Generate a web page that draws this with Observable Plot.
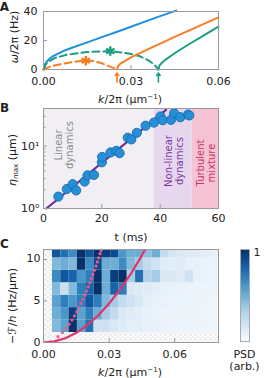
<!DOCTYPE html>
<html><head><meta charset="utf-8">
<script src="https://cdn.jsdelivr.net/npm/d3@7"></script>
<script src="https://cdn.jsdelivr.net/npm/@observablehq/plot@0.6"></script>
<style>
body{margin:0;background:#fff;}
#wrap{position:relative;width:265px;height:378px;font-family:"DejaVu Sans",sans-serif;font-size:11px;color:#222;overflow:hidden}
#wrap svg{position:absolute;left:0;overflow:visible}
.lbl{position:absolute;white-space:nowrap;line-height:1;transform:translate(-50%,-50%)}
.rot{transform:translate(-50%,-50%) rotate(-90deg);text-align:center}
.cbar{position:absolute;box-sizing:border-box;border:1px solid #aaa}
</style></head><body><div id="wrap"></div>
<script>
// ---------- Panel A: dispersion relations ----------
const blueK = [0, 0.0005, 0.001, 0.002, 0.003, 0.005, 0.0075, 0.01, 0.015, 0.02, 0.025, 0.03, 0.035, 0.04, 0.0455];
const blueW = [0, 3.5, 5.2, 7.3, 8.8, 11.0, 13.3, 15.2, 18.7, 22.3, 25.9, 29.5, 33.2, 36.8, 40.6];
const orangeDashK = [0, 0.001, 0.0025, 0.004, 0.007, 0.01, 0.0125, 0.0145, 0.017, 0.0185, 0.02, 0.0217, 0.0235, 0.0246, 0.0252];
const orangeDashW = [0, 1.0, 2.0, 2.9, 4.1, 5.1, 5.8, 6.1, 5.9, 5.2, 4.3, 2.9, 1.5, 0.7, 0];
const orangeK = [0.0252, 0.0256, 0.0265, 0.028, 0.03, 0.035, 0.04, 0.045, 0.05, 0.055, 0.06];
const orangeW = [0, 2.5, 4.3, 6.0, 8.3, 13.2, 17.9, 22.5, 27.0, 31.5, 35.9];
const greenDashK = [0, 0.0007, 0.0017, 0.004, 0.008, 0.0149, 0.0229, 0.0297, 0.0331, 0.036, 0.0379, 0.0394];
const greenDashW = [0, 3.2, 5.5, 8.0, 10.2, 12.0, 12.7, 10.9, 9.1, 6.3, 3.6, 0];
const greenK = [0.0394, 0.0397, 0.0405, 0.042, 0.044, 0.046, 0.05, 0.055, 0.06];
const greenW = [0, 2.5, 4.5, 7.0, 9.8, 12.6, 17.6, 23.6, 29.6];
const starK = [0.0145, 0.0229];
const starW = [6.1, 12.7];
const criticalK = [0.0252, 0.0394];
const arrowFromW = [-8.7, -8.7];
const arrowToW = [-2.4, -2.4];
const xTicksA = [0, 0.03, 0.06];
const yTicksA = [0, 20, 40];

// ---------- Panel B: growth of eta_max ----------
const tB = [5.1, 8.0, 10.0, 11.2, 14.1, 15.1, 17.3, 20.0, 20.1, 23.0, 25.0, 26.1, 28.9, 30.1, 32.0, 35.0, 37.9, 40.1, 40.9, 43.7, 44.8, 46.9, 49.6, 50.0];
const etaB = [1.55, 2.05, 2.45, 1.95, 2.7, 3.4, 3.45, 5.5, 6.7, 7.9, 8.4, 7.7, 13.6, 12.8, 16.3, 21.2, 23.8, 29.8, 26.0, 26.3, 33.5, 29.0, 32.0, 31.0];
const fitT = [1, 42];
const fitEta = [1, 38];
const regionStart = [0, 38, 51];
const regionEnd = [38, 51, 60];
const xTicksB = [0, 20, 40, 60];
const yTicksB = [1, 10];
const yMinorB = [2, 3, 4, 5, 6, 7, 8, 9, 20, 30];

// ---------- Panel C: PSD heatmap ----------
const kEdges = [0.0041, 0.0079, 0.0117, 0.0155, 0.0193, 0.0231, 0.0269, 0.0307, 0.0345, 0.0383, 0.0421, 0.0459, 0.0497, 0.0535, 0.0573, 0.0611, 0.0649, 0.0687, 0.0725, 0.0763, 0.0801];
const fEdges = [1.2, 2.7, 4.2, 5.7, 7.2, 8.7, 10.2, 11.7];
// rows from bottom (1.2-2.7) to top (10.2-11.7)
const psd = [
  [0.45,0.55,1.0,0.55,0.75,0.2,0.2,0.15,0.12,0.1,0.1,0.08,0.08,0.07,0.06,0.06,0.05,0.05,0.05,0.04],
  [0.5,0.6,0.95,0.55,0.7,0.5,0.35,0.25,0.15,0.12,0.1,0.08,0.07,0.06,0.06,0.05,0.05,0.05,0.04,0.04],
  [0.55,0.7,0.6,0.7,0.85,0.7,0.45,0.35,0.25,0.2,0.15,0.1,0.08,0.07,0.06,0.06,0.05,0.05,0.05,0.04],
  [0.45,0.22,0.45,0.7,0.8,1.0,0.5,0.8,0.7,0.15,0.12,0.12,0.1,0.08,0.08,0.07,0.06,0.06,0.05,0.05],
  [0.65,0.85,0.8,0.6,0.7,1.0,0.5,0.95,1.0,0.35,0.75,0.3,0.35,0.15,0.15,0.12,0.2,0.08,0.07,0.06],
  [0.45,0.5,0.45,1.0,0.65,0.9,0.5,0.5,0.65,0.45,0.35,0.25,0.2,0.12,0.1,0.12,0.08,0.08,0.06,0.06],
  [0.85,0.75,0.65,1.0,0.85,1.0,0.95,0.9,0.6,0.5,0.5,0.42,0.5,0.25,0.18,0.15,0.13,0.12,0.1,0.08]
];
const dotK = [0.0066, 0.0087, 0.0103, 0.0117, 0.013, 0.0141, 0.0152, 0.0162, 0.0171, 0.018, 0.0189, 0.0197, 0.0204, 0.0212, 0.0219, 0.0226, 0.0233, 0.024, 0.0246, 0.0252, 0.0258, 0.0263];
const dotF = [0.7, 1.2, 1.7, 2.2, 2.7, 3.2, 3.7, 4.2, 4.7, 5.2, 5.7, 6.2, 6.7, 7.2, 7.7, 8.2, 8.7, 9.2, 9.7, 10.2, 10.7, 11.1];
const curveK = [0, 0.005, 0.01, 0.015, 0.02, 0.025, 0.03, 0.035, 0.04, 0.045, 0.0475];
const curveF = [0, 0.13, 0.52, 1.17, 2.1, 3.25, 4.7, 6.4, 8.3, 10.5, 11.7];
const xTicksC = [0, 0.03, 0.06];
const yTicksC = [0, 5, 10];

// ---------- styles ----------
const FONT = '"DejaVu Sans", sans-serif';
const BLUE = "#1f8fe0", ORANGE = "#fb7d23", GREEN = "#1a9e84";
const GRID = "#999";
const regionFill = ["#f1eff4", "#e6d7ef", "#f6c3d4"];
const style = {fontFamily: FONT, fontSize: "11px", color: "#222", overflow: "visible", background: "transparent"};
const W = 265, ML = 43, MR = 47;
const zip = (a, b, ka, kb) => a.map((v, i) => ({[ka]: v, [kb]: b[i]}));

const wrap = document.getElementById("wrap");
function place(svg, top) { svg.style.top = top + "px"; wrap.appendChild(svg); }
function lbl(html, x, y, opts = {}) {
  const d = document.createElement("div");
  d.className = "lbl" + (opts.rot ? " rot" : "");
  d.innerHTML = html;
  d.style.left = x + "px"; d.style.top = y + "px";
  if (opts.color) d.style.color = opts.color;
  if (opts.size) d.style.fontSize = opts.size + "px";
  if (opts.bold) d.style.fontWeight = "bold";
  if (opts.lh) d.style.lineHeight = opts.lh + "px";
  wrap.appendChild(d);
}

// Panel A
{
  const H = 90, MT = 11, MB = 21, FH = H - MT - MB, FW = W - ML - MR;
  const dash = "7,4";
  const svg = Plot.plot({
    width: W, height: H, marginLeft: ML, marginRight: MR, marginTop: MT, marginBottom: MB, style,
    x: {domain: [0, 0.06]}, y: {domain: [0, 40]},
    marks: [
      Plot.line(zip(blueK, blueW, "k", "w"), {x: "k", y: "w", stroke: BLUE, strokeWidth: 2}),
      Plot.line(zip(orangeDashK, orangeDashW, "k", "w"), {x: "k", y: "w", stroke: ORANGE, strokeWidth: 2, strokeDasharray: dash}),
      Plot.line(zip(greenDashK, greenDashW, "k", "w"), {x: "k", y: "w", stroke: GREEN, strokeWidth: 2, strokeDasharray: dash}),
      Plot.line(zip(orangeK, orangeW, "k", "w"), {x: "k", y: "w", stroke: ORANGE, strokeWidth: 2}),
      Plot.line(zip(greenK, greenW, "k", "w"), {x: "k", y: "w", stroke: GREEN, strokeWidth: 2}),
      Plot.dot(zip(starK, starW, "k", "w"), {x: "k", y: "w", symbol: "asterisk", r: 4.5, strokeWidth: 2.4, stroke: (d, i) => [ORANGE, GREEN][i]}),
      Plot.arrow(criticalK.map((k, i) => ({k, a: arrowFromW[i], b: arrowToW[i], c: [ORANGE, GREEN][i]})),
        {x1: "k", x2: "k", y1: "a", y2: "b", stroke: "c", strokeWidth: 1.6, headLength: 5, headAngle: 70}),
      Plot.tickX(xTicksA, {x: d => d, insetTop: FH - 4, stroke: GRID}),
      Plot.tickY(yTicksA, {y: d => d, insetRight: FW - 4, stroke: GRID}),
      Plot.frame({stroke: GRID}),
      Plot.axisX({ticks: xTicksA, tickSize: 0, tickPadding: 8, tickFormat: d3.format(".2f"), label: null}),
      Plot.axisY({ticks: yTicksA, tickSize: 0, tickPadding: 6, dy: -0.5, label: null})
    ]
  });
  place(svg, 0);
}

// Panel B
{
  const H = 125, MT = 10, MB = 15, FH = H - MT - MB, FW = W - ML - MR;
  const sup = ["\u2070", "\u00b9"];
  const svg = Plot.plot({
    width: W, height: H, marginLeft: ML, marginRight: MR, marginTop: MT, marginBottom: MB, style,
    x: {domain: [0, 60]}, y: {type: "log", domain: [1, 40]},
    marks: [
      Plot.rect(regionStart.map((s, i) => ({s, e: regionEnd[i], c: regionFill[i]})), {x1: "s", x2: "e", fill: "c"}),
      Plot.line(zip(fitT, fitEta, "t", "eta"), {x: "t", y: "eta", stroke: "#6c2d96", strokeWidth: 2.2}),
      Plot.dot(zip(tB, etaB, "t", "eta"), {x: "t", y: "eta", r: 4.6, fill: "#2590d8", stroke: "#1a6cad", strokeWidth: 0.9}),
      Plot.tickX(xTicksB, {x: d => d, insetTop: FH - 4, stroke: GRID}),
      Plot.tickY(yTicksB, {y: d => d, insetRight: FW - 4, stroke: GRID}),
      Plot.tickY(yMinorB, {y: d => d, insetRight: FW - 2.5, stroke: GRID}),
      Plot.frame({stroke: GRID}),
      Plot.axisX({ticks: xTicksB, tickSize: 0, tickPadding: 6, label: null}),
      Plot.axisY({ticks: yTicksB, tickSize: 0, tickPadding: 4, tickFormat: d => "10" + sup[Math.round(Math.log10(d))], label: null})
    ]
  });
  place(svg, 98);
}

// Panel C
{
  const H = 115, MT = 10, MB = 12, FH = H - MT - MB, FW = W - ML - MR;
  const cells = [];
  psd.forEach((row, r) => row.forEach((v, c) => cells.push({x1: kEdges[c], x2: kEdges[c + 1], y1: fEdges[r], y2: fEdges[r + 1], v})));
  const svg = Plot.plot({
    width: W, height: H, marginLeft: ML, marginRight: MR, marginTop: MT, marginBottom: MB, style,
    x: {domain: [0, 0.08]}, y: {domain: [0, 11.2]},
    color: {type: "linear", scheme: "blues", domain: [0, 1]},
    marks: [
      Plot.frame({fill: "url(#hatchC)", stroke: "none"}),
      Plot.rect(cells, {x1: "x1", x2: "x2", y1: "y1", y2: "y2", fill: "v", clip: true}),
      Plot.line(zip(curveK, curveF, "k", "f"), {x: "k", y: "f", stroke: "#e3326c", strokeWidth: 2.2, clip: true}),
      Plot.dot(zip(dotK, dotF, "k", "f"), {x: "k", y: "f", r: 1.6, fill: "#ea5a90", stroke: "none"}),
      Plot.tickX(xTicksC, {x: d => d, insetTop: FH - 4, stroke: GRID}),
      Plot.tickY(yTicksC, {y: d => d, insetRight: FW - 4, stroke: GRID}),
      Plot.frame({stroke: GRID}),
      Plot.axisX({ticks: xTicksC, tickSize: 0, tickPadding: 8, tickFormat: d3.format(".2f"), label: null}),
      Plot.axisY({ticks: yTicksC, tickSize: 0, tickPadding: 3, dy: -0.5, label: null})
    ]
  });
  d3.select(svg).insert("defs", ":first-child").html(
    '<pattern id="hatchC" width="5" height="5" patternUnits="userSpaceOnUse">' +
    '<rect width="5" height="5" fill="#fff"/><path d="M0,0L5,5M5,0L0,5" stroke="#cfcfcf" stroke-width="0.6"/></pattern>');
  place(svg, 239);

  // colourbar
  const cb = document.createElement("div");
  cb.className = "cbar";
  const stops = d3.range(0, 1.0001, 0.1).map(t => d3.interpolateBlues(t) + " " + (t * 100) + "%");
  cb.style.cssText = "left:240px;top:249px;width:10px;height:93px;background:linear-gradient(to top," + stops.join(",") + ")";
  wrap.appendChild(cb);
}

// ---------- text ----------
lbl("A", 4.5, 7, {bold: true, size: 12});
lbl("B", 4.5, 107.5, {bold: true, size: 12});
lbl("C", 4.5, 244, {bold: true, size: 12});
lbl("<i>ω</i>/2π (Hz)", 14, 37, {rot: true});
lbl("<i>k</i>/2π (μm<sup style='font-size:7px;vertical-align:4px'>−1</sup>)", 130, 98.5);
lbl("<i>η</i><sub style='font-size:7px;vertical-align:-2px'>max</sub> (μm)", 13, 160, {rot: true});
lbl("t (ms)", 131, 236.5);
lbl("−<i>ℱ</i>/<i>h</i> (Hz/μm)", 11.5, 306, {rot: true});
lbl("<i>k</i>/2π (μm<sup style='font-size:7px;vertical-align:4px'>−1</sup>)", 130, 371.5);
lbl("Linear<br>dynamics", 64, 145, {rot: true, color: "#8c8c8c", size: 10, lh: 11});
lbl("Non-linear<br>dynamics", 173.5, 161, {rot: true, color: "#7b3a9c", size: 10, lh: 11});
lbl("Turbulent<br>mixture", 206, 163, {rot: true, color: "#c93560", size: 10, lh: 11});
lbl("1", 257, 251.5);
lbl("PSD", 244.5, 353.5);
lbl("(arb.)", 244.5, 365.5);
</script></body></html>
